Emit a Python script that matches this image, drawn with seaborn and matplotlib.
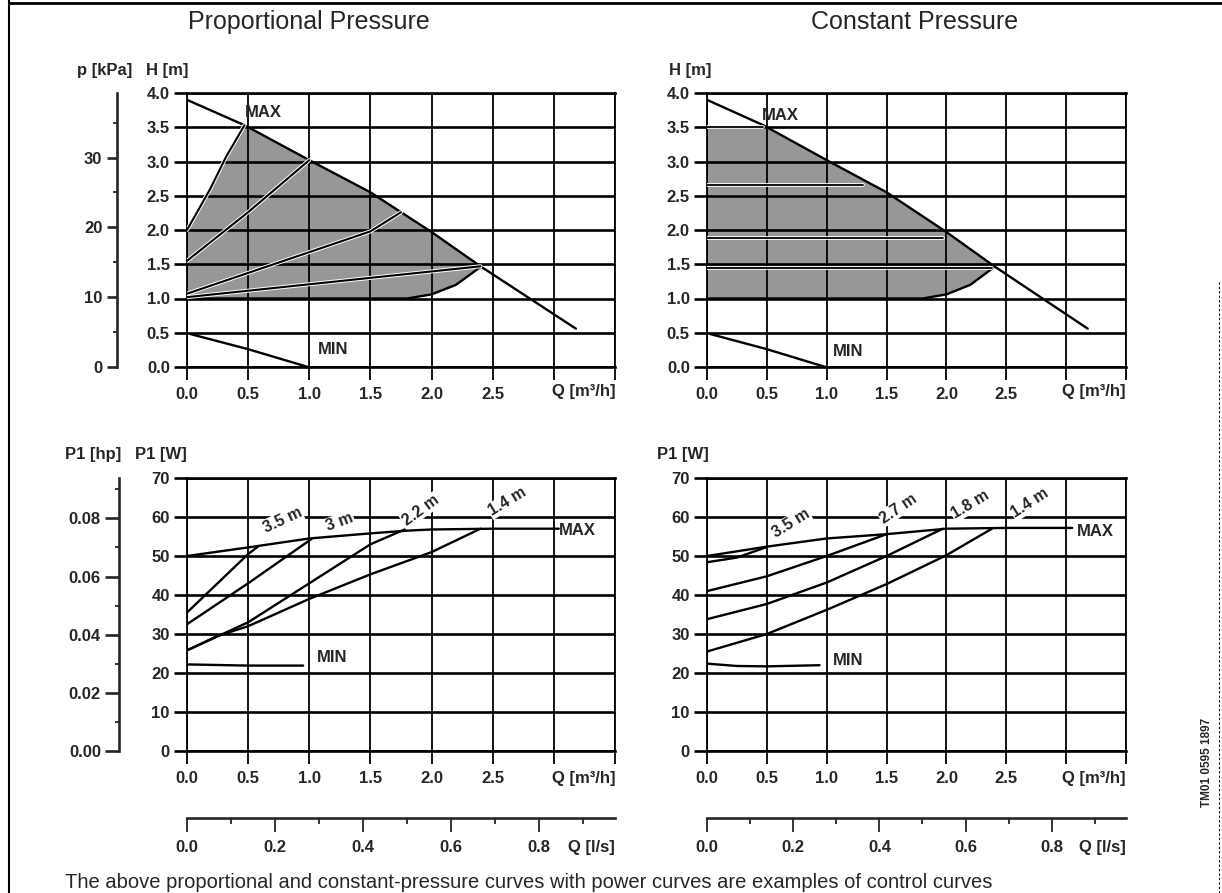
import numpy as np
import matplotlib
matplotlib.use("Agg")
import matplotlib.pyplot as plt
import matplotlib.patheffects as pe
from matplotlib.ticker import MultipleLocator
import seaborn as sns

# ------------------------------------------------------------------ data
Q_TICKS = [0.0, 0.5, 1.0, 1.5, 2.0, 2.5, 3.0, 3.5]
Q_TICK_LABELS = ["0.0", "0.5", "1.0", "1.5", "2.0", "2.5", "", ""]
H_TICKS = [0.0, 0.5, 1.0, 1.5, 2.0, 2.5, 3.0, 3.5, 4.0]
H_TICK_LABELS = ["0.0", "0.5", "1.0", "1.5", "2.0", "2.5", "3.0", "3.5", "4.0"]
KPA_TICKS = [0, 10, 20, 30]
W_TICKS = [0, 10, 20, 30, 40, 50, 60, 70]
HP_TICKS = [0.00, 0.02, 0.04, 0.06, 0.08]
HP_TICK_LABELS = ["0.00", "0.02", "0.04", "0.06", "0.08"]
LS_TICKS = [0.0, 0.2, 0.4, 0.6, 0.8]
LS_TICK_LABELS = ["0.0", "0.2", "0.4", "0.6", "0.8"]

# head curves  (Q m3/h, H m)
max_q = [0.0, 0.47, 1.0, 1.5, 2.0, 2.4, 3.18]
max_h = [3.9, 3.53, 3.02, 2.55, 1.97, 1.47, 0.56]
min_q = [0.03, 0.5, 0.99]
min_h = [0.48, 0.26, 0.0]
low_q = [0.0, 1.8, 2.0, 2.2, 2.4]
low_h = [1.0, 1.0, 1.06, 1.2, 1.46]

# proportional pressure control curves
pp35_q = [0.0, 0.19, 0.32, 0.47]
pp35_h = [2.0, 2.6, 3.07, 3.53]
pp30_q = [0.0, 0.5, 1.0]
pp30_h = [1.55, 2.26, 3.02]
pp22_q = [0.0, 1.5, 1.75]
pp22_h = [1.07, 1.98, 2.26]
pp14_q = [0.0, 2.4]
pp14_h = [1.02, 1.47]

# constant pressure control curves
cp35_q = [0.0, 0.47]
cp35_h = [3.5, 3.5]
cp27_q = [0.0, 1.3]
cp27_h = [2.65, 2.65]
cp18_q = [0.0, 1.97]
cp18_h = [1.88, 1.88]
cp14_q = [0.0, 2.38]
cp14_h = [1.45, 1.45]

# power curves, proportional (Q m3/h, P1 W)
pl_max_q = [0.0, 0.5, 1.0, 1.5, 1.8, 2.0, 2.5, 3.04]
pl_max_w = [50.0, 52.2, 54.5, 55.8, 56.5, 56.8, 57.0, 57.0]
pl35_q = [0.0, 0.25, 0.5, 0.58]
pl35_w = [35.5, 43.0, 50.5, 52.4]
pl30_q = [0.0, 0.5, 1.02]
pl30_w = [32.5, 43.0, 54.4]
pl22_q = [0.0, 0.5, 1.0, 1.5, 1.78]
pl22_w = [25.8, 33.0, 43.0, 53.0, 56.8]
pl14_q = [0.0, 0.25, 0.5, 1.0, 1.5, 2.0, 2.4]
pl14_w = [25.8, 29.5, 32.0, 39.0, 45.3, 51.0, 57.0]
pl_min_q = [0.0, 0.5, 0.95]
pl_min_w = [22.2, 21.9, 21.9]

# power curves, constant
pr_max_q = [0.0, 0.5, 1.0, 1.5, 2.0, 2.5, 3.05]
pr_max_w = [50.0, 52.4, 54.5, 55.6, 57.0, 57.2, 57.2]
pr35_q = [0.0, 0.25, 0.5]
pr35_w = [48.4, 49.6, 52.3]
pr27_q = [0.0, 0.5, 1.0, 1.5]
pr27_w = [41.0, 44.8, 50.0, 55.6]
pr18_q = [0.0, 0.5, 1.0, 1.5, 1.97]
pr18_w = [33.8, 37.7, 43.2, 50.0, 57.0]
pr14_q = [0.0, 0.5, 1.0, 1.5, 2.0, 2.38]
pr14_w = [25.5, 30.0, 36.2, 42.8, 50.2, 57.0]
pr_min_q = [0.0, 0.25, 0.5, 0.94]
pr_min_w = [22.4, 21.8, 21.7, 22.0]

left_curve_labels = ["3.5 m", "3 m", "2.2 m", "1.4 m"]
left_label_q = [0.78, 1.25, 1.91, 2.62]
left_label_w = [59.2, 58.7, 61.7, 63.9]
left_label_rot = [25, 20, 36, 31]
right_curve_labels = ["3.5 m", "2.7 m", "1.8 m", "1.4 m"]
right_label_q = [0.70, 1.60, 2.20, 2.70]
right_label_w = [58.4, 62.2, 63.1, 63.5]
right_label_rot = [32, 34, 31, 33]

TITLE_LEFT = "Proportional Pressure"
TITLE_RIGHT = "Constant Pressure"
CAPTION = ("The above proportional and constant-pressure curves with power "
           "curves are examples of control curves")
DOC_CODE = "TM01 0595 1897"

# ------------------------------------------------------------------ style
sns.set_theme(style="white")
plt.rcParams["font.family"] = ["Liberation Sans", "DejaVu Sans"]
plt.rcParams["axes.linewidth"] = 1.3

W_PX, H_PX = 1222, 893
fig = plt.figure(figsize=(W_PX / 100, H_PX / 100), dpi=100)
fig.patch.set_facecolor("white")


def fx(px):
    return px / W_PX


def fy(py):
    return 1 - py / H_PX


TICK_LEN = 9.4
HLW = 1.9   # horizontal grid lines (pt)
VLW = 1.3   # vertical grid lines (pt)
CLW = 1.7   # curves
TICK_FS = 12
TICK_W = "bold"
LAB_FS = 12


def style_main(ax, ymax, yticks, ylabels):
    ax.set_xlim(0, 3.5)
    ax.set_ylim(0, ymax)
    ax.set_xticks(Q_TICKS)
    ax.set_xticklabels(Q_TICK_LABELS)
    ax.set_yticks(yticks)
    ax.set_yticklabels(ylabels)
    ax.set_xlabel("")
    ax.set_ylabel("")
    ax.set_axisbelow(False)
    ax.yaxis.grid(True, color="black", lw=HLW)
    ax.xaxis.grid(True, color="black", lw=VLW)
    ax.tick_params(axis="y", direction="out", length=TICK_LEN, width=HLW,
                   color="black", pad=3, labelsize=TICK_FS, left=True)
    ax.tick_params(axis="x", direction="out", length=TICK_LEN, width=VLW,
                   color="black", pad=5, labelsize=TICK_FS, bottom=True)
    for lab in ax.get_xticklabels() + ax.get_yticklabels():
        lab.set_fontweight(TICK_W)
    for s in ["top", "bottom"]:
        ax.spines[s].set_linewidth(HLW)
        ax.spines[s].set_color("black")
    for s in ["left", "right"]:
        ax.spines[s].set_linewidth(VLW)
        ax.spines[s].set_color("black")
    ax.text(1.0, -0.09 if ymax < 10 else -0.10, "Q [m³/h]",
            transform=ax.transAxes, ha="right", va="center",
            fontsize=TICK_FS, fontweight=TICK_W)


def curve(ax, q, v, lw=CLW, halo=False):
    sns.lineplot(x=q, y=v, ax=ax, color="black", lw=lw, sort=False,
                 estimator=None, legend=False, zorder=3)
    if halo:
        ax.lines[-1].set_path_effects(
            [pe.Stroke(linewidth=lw + 1.4, foreground="white"), pe.Normal()])


def ls_axis(ax):
    sec = ax.secondary_xaxis(-0.2454, functions=(lambda q: q / 3.6,
                                                 lambda l: l * 3.6))
    sec.set_xticks(LS_TICKS)
    sec.set_xticklabels(LS_TICK_LABELS)
    sec.xaxis.set_minor_locator(MultipleLocator(0.1))
    sec.spines["bottom"].set_linewidth(HLW)
    sec.tick_params(axis="x", which="major", direction="out", length=10,
                    width=VLW, pad=6, labelsize=TICK_FS)
    sec.tick_params(axis="x", which="minor", direction="out", length=4,
                    width=VLW)
    for lab in sec.get_xticklabels():
        lab.set_fontweight(TICK_W)
    ax.text(1.0, -0.355, "Q [l/s]", transform=ax.transAxes, ha="right",
            va="center", fontsize=TICK_FS, fontweight=TICK_W)


# ------------------------------------------------------------------ axes
ax_tl = fig.add_axes([fx(187), fy(367), fx(615) - fx(187), fy(93) - fy(367)])
ax_tr = fig.add_axes([fx(707), fy(367), fx(1126) - fx(707), fy(93) - fy(367)])
ax_bl = fig.add_axes([fx(187), fy(751), fx(615) - fx(187), fy(478) - fy(751)])
ax_br = fig.add_axes([fx(707), fy(751), fx(1126) - fx(707), fy(478) - fy(751)])

SHADE = "#979797"

# ---- top-left: proportional pressure
ax = ax_tl
poly_q = [0.0] + pp35_q + max_q[2:6] + low_q[::-1]
poly_h = [low_h[0]] + pp35_h + max_h[2:6] + low_h[::-1]
ax.fill(poly_q, poly_h, facecolor=SHADE, edgecolor="none", zorder=1)
curve(ax, max_q, max_h)
curve(ax, min_q, min_h)
curve(ax, low_q, low_h)
for q, h in [(pp35_q, pp35_h), (pp30_q, pp30_h), (pp22_q, pp22_h),
             (pp14_q, pp14_h)]:
    curve(ax, q, h, lw=1.5, halo=True)
style_main(ax, 4.0, H_TICKS, H_TICK_LABELS)
ax.text(0.47, 3.72, "MAX", ha="left", va="center", fontsize=LAB_FS,
        fontweight="bold", zorder=4)
ax.text(1.07, 0.25, "MIN", ha="left", va="center", fontsize=LAB_FS,
        fontweight="bold", zorder=4)
sec = ax.secondary_yaxis(-0.1636, functions=(lambda h: h * 9.81,
                                             lambda p: p / 9.81))
sec.set_yticks(KPA_TICKS)
sec.yaxis.set_minor_locator(MultipleLocator(5))
sec.spines["left"].set_linewidth(HLW)
sec.tick_params(axis="y", which="major", direction="out", length=7.5,
                width=HLW, pad=3, labelsize=TICK_FS)
sec.tick_params(axis="y", which="minor", direction="out", length=3,
                width=VLW)
for lab in sec.get_yticklabels():
    lab.set_fontweight(TICK_W)

# ---- top-right: constant pressure
ax = ax_tr
poly_q = [0.0, 0.0] + max_q[1:6] + low_q[::-1]
poly_h = [low_h[0], cp35_h[0]] + max_h[1:6] + low_h[::-1]
ax.fill(poly_q, poly_h, facecolor=SHADE, edgecolor="none", zorder=1)
curve(ax, max_q, max_h)
curve(ax, min_q, min_h)
curve(ax, low_q, low_h)
for q, h in [(cp35_q, cp35_h), (cp27_q, cp27_h), (cp18_q, cp18_h),
             (cp14_q, cp14_h)]:
    curve(ax, q, h, lw=1.3, halo=True)
style_main(ax, 4.0, H_TICKS, H_TICK_LABELS)
ax.text(0.46, 3.67, "MAX", ha="left", va="center", fontsize=LAB_FS,
        fontweight="bold", zorder=4)
ax.text(1.05, 0.22, "MIN", ha="left", va="center", fontsize=LAB_FS,
        fontweight="bold", zorder=4)

# ---- bottom-left: power, proportional
ax = ax_bl
curve(ax, pl_max_q, pl_max_w)
for q, w in [(pl35_q, pl35_w), (pl30_q, pl30_w), (pl22_q, pl22_w),
             (pl14_q, pl14_w), (pl_min_q, pl_min_w)]:
    curve(ax, q, w)
style_main(ax, 70, W_TICKS, [str(t) for t in W_TICKS])
for t, q, w, r in zip(left_curve_labels, left_label_q, left_label_w,
                      left_label_rot):
    ax.text(q, w, t, rotation=r, ha="center", va="center", fontsize=11.5,
            fontweight="bold", zorder=4,
            bbox=dict(facecolor="white", edgecolor="none", pad=0.6))
ax.text(3.04, 56.6, "MAX", ha="left", va="center", fontsize=LAB_FS,
        fontweight="bold", zorder=4)
ax.text(1.06, 24.0, "MIN", ha="left", va="center", fontsize=LAB_FS,
        fontweight="bold", zorder=4)
sec = ax.secondary_yaxis(-0.159, functions=(lambda w: w / 745.7,
                                            lambda hp: hp * 745.7))
sec.set_yticks(HP_TICKS)
sec.set_yticklabels(HP_TICK_LABELS)
sec.yaxis.set_minor_locator(MultipleLocator(0.01))
sec.spines["left"].set_linewidth(HLW)
sec.tick_params(axis="y", which="major", direction="out", length=10,
                width=HLW, pad=3, labelsize=TICK_FS)
sec.tick_params(axis="y", which="minor", direction="out", length=3,
                width=VLW)
for lab in sec.get_yticklabels():
    lab.set_fontweight(TICK_W)
ls_axis(ax)

# ---- bottom-right: power, constant
ax = ax_br
curve(ax, pr_max_q, pr_max_w)
for q, w in [(pr35_q, pr35_w), (pr27_q, pr27_w), (pr18_q, pr18_w),
             (pr14_q, pr14_w), (pr_min_q, pr_min_w)]:
    curve(ax, q, w)
style_main(ax, 70, W_TICKS, [str(t) for t in W_TICKS])
for t, q, w, r in zip(right_curve_labels, right_label_q, right_label_w,
                      right_label_rot):
    ax.text(q, w, t, rotation=r, ha="center", va="center", fontsize=11.5,
            fontweight="bold", zorder=4,
            bbox=dict(facecolor="white", edgecolor="none", pad=0.6))
ax.text(3.09, 56.4, "MAX", ha="left", va="center", fontsize=LAB_FS,
        fontweight="bold", zorder=4)
ax.text(1.05, 23.3, "MIN", ha="left", va="center", fontsize=LAB_FS,
        fontweight="bold", zorder=4)
ls_axis(ax)

# ------------------------------------------------------------------ texts
fig.text(fx(309), fy(22), TITLE_LEFT, ha="center", va="center", fontsize=18)
fig.text(fx(915), fy(22), TITLE_RIGHT, ha="center", va="center", fontsize=18)
fig.text(fx(77), fy(71), "p [kPa]", ha="left", va="center", fontsize=LAB_FS,
         fontweight="bold")
fig.text(fx(146), fy(71), "H [m]", ha="left", va="center", fontsize=LAB_FS,
         fontweight="bold")
fig.text(fx(669), fy(71), "H [m]", ha="left", va="center", fontsize=LAB_FS,
         fontweight="bold")
fig.text(fx(65), fy(455), "P1 [hp]", ha="left", va="center", fontsize=LAB_FS,
         fontweight="bold")
fig.text(fx(135), fy(455), "P1 [W]", ha="left", va="center", fontsize=LAB_FS,
         fontweight="bold")
fig.text(fx(657), fy(455), "P1 [W]", ha="left", va="center", fontsize=LAB_FS,
         fontweight="bold")
fig.text(fx(65), fy(883), CAPTION, ha="left", va="center", fontsize=14.5)
fig.text(fx(1207), fy(762), DOC_CODE, ha="center", va="center",
         rotation=90, fontsize=8.5, fontweight="bold")

# page border of the scanned sheet
fig.add_artist(plt.Line2D([fx(9), fx(9)], [0, 1], color="black", lw=1.5))
fig.add_artist(plt.Line2D([fx(9), 1], [fy(3), fy(3)], color="black", lw=2.0))
fig.add_artist(plt.Line2D([fx(1219), fx(1219)], [0, fy(280)], color="black",
                          lw=0.8, ls=(0, (2, 2))))

fig.savefig("out.png", dpi=100, facecolor="white")
